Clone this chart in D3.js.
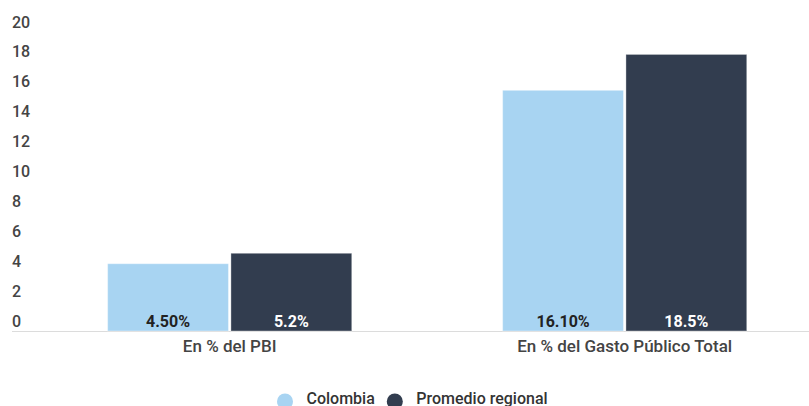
<!DOCTYPE html>
<html>
<head>
<meta charset="utf-8">
<script src="https://cdn.jsdelivr.net/npm/d3@7"></script>
<style>
  body { margin: 0; background: #fff; font-family: Roboto, "Noto Sans", sans-serif; }
  svg { display: block; }
</style>
</head>
<body>
<svg id="chart" width="809" height="406"></svg>
<script>
// data
const categories = ["En % del PBI", "En % del Gasto Público Total"];
const seriesNames = ["Colombia", "Promedio regional"];
const colombia = [4.5, 16.1];
const promedio = [5.2, 18.5];
const valueLabels = [["4.50%", "5.2%"], ["16.10%", "18.5%"]];
const yTicks = [0, 2, 4, 6, 8, 10, 12, 14, 16, 18, 20];
const colors = ["#a8d4f2", "#323d4f"];
const labelColors = ["#222222", "#ffffff"];

const width = 809, height = 406;
const svg = d3.select("#chart");

const y = d3.scaleLinear().domain([0, 20]).range([331, 32]);

const x0 = d3.scaleBand()
  .domain(categories)
  .range([32.2, 822.2])
  .paddingInner(0.382)
  .paddingOuter(0.191);

const x1 = d3.scaleBand()
  .domain(seriesNames)
  .range([0, x0.bandwidth()])
  .paddingInner(0.02);

const rows = categories.map((c, i) => ({
  cat: c,
  vals: [colombia[i], promedio[i]].map((v, j) => ({ name: seriesNames[j], v, j, label: valueLabels[i][j] }))
}));

// y tick labels (sit above their value, no grid lines)
svg.append("g").selectAll("text")
  .data(yTicks)
  .enter().append("text")
    .attr("x", 12)
    .attr("y", d => y(d) - 4.5)
    .attr("fill", "#444")
    .attr("font-size", 16)
    .attr("font-weight", 500)
    .text(d => d);

// baseline
svg.append("line")
  .attr("x1", 12).attr("x2", width)
  .attr("y1", y(0) + 0.5).attr("y2", y(0) + 0.5)
  .attr("stroke", "#dcdcdc")
  .attr("stroke-width", 1);

const group = svg.append("g").selectAll("g")
  .data(rows)
  .enter().append("g")
    .attr("transform", d => `translate(${x0(d.cat)},0)`);

group.selectAll("rect")
  .data(d => d.vals)
  .enter().append("rect")
    .attr("x", d => x1(d.name))
    .attr("y", d => y(d.v))
    .attr("width", x1.bandwidth())
    .attr("height", d => y(0) - y(d.v))
    .attr("fill", d => colors[d.j])
    .attr("stroke", "rgba(255,255,255,0.35)")
    .attr("stroke-width", 1);

group.selectAll("text")
  .data(d => d.vals)
  .enter().append("text")
    .attr("x", d => x1(d.name) + x1.bandwidth() / 2)
    .attr("y", y(0) - 4.3)
    .attr("text-anchor", "middle")
    .attr("font-size", 16)
    .attr("font-weight", 700)
    .attr("fill", d => labelColors[d.j])
    .text(d => d.label);

// category labels
svg.append("g").selectAll("text")
  .data(categories)
  .enter().append("text")
    .attr("x", d => x0(d) + x0.bandwidth() / 2)
    .attr("y", 352.3)
    .attr("text-anchor", "middle")
    .attr("font-size", 17)
    .attr("font-weight", 500)
    .attr("fill", "#444")
    .text(d => d);

// legend (cut by the bottom edge, as in the original)
const legend = svg.append("g");
const items = legend.selectAll("g")
  .data(seriesNames)
  .enter().append("g");
items.append("circle")
  .attr("r", 8)
  .attr("cy", 401.5)
  .attr("fill", (d, i) => colors[i]);
items.append("text")
  .attr("y", 404)
  .attr("font-size", 16)
  .attr("font-weight", 500)
  .attr("fill", "#333")
  .text(d => d);

let cx = 285;
items.each(function(d, i) {
  const g = d3.select(this);
  g.select("circle").attr("cx", cx);
  g.select("text").attr("x", cx + 21.5);
  const w = g.select("text").node().getComputedTextLength();
  cx = cx + 21.5 + w + 20;
});
</script>
</body>
</html>
